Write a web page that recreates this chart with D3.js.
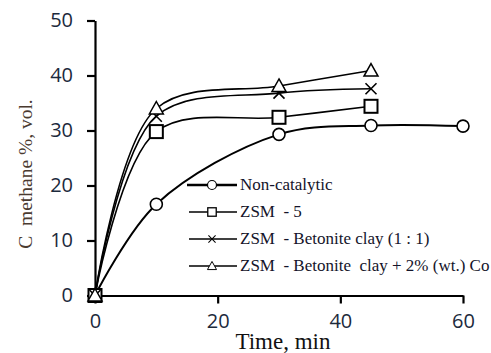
<!DOCTYPE html>
<html>
<head>
<meta charset="UTF-8">
<script src="https://d3js.org/d3.v7.min.js"></script>
</head>
<body style="margin:0">
<svg id="chart" width="491" height="353" font-family="Liberation Serif"></svg>
<script>
const times = [0, 10, 30, 45, 60];
const nonCatalytic = [0, 16.6, 29.3, 30.9, 30.8];
const zsm5 = [0, 29.8, 32.4, 34.4];
const zsmClay = [0, 32.6, 36.8, 37.6];
const zsmClayCo = [0, 34.0, 38.1, 40.9];
const seriesNames = ["Non-catalytic", "ZSM  - 5", "ZSM  - Betonite clay (1 : 1)", "ZSM  - Betonite  clay + 2% (wt.) Co"];
const markers = ["circle", "square", "cross", "triangle"];
const xTicks = [0, 20, 40, 60];
const yTicks = [0, 10, 20, 30, 40, 50];

const svg = d3.select("#chart");
const x = d3.scaleLinear().domain([0, 60]).range([95, 463]);
const y = d3.scaleLinear().domain([0, 50]).range([295.5, 20.5]);

// axes
const xAxis = svg.append("g")
  .attr("transform", "translate(0," + y(0) + ")")
  .call(d3.axisBottom(x).tickValues(xTicks).tickSize(8).tickPadding(10).tickSizeOuter(0));
const yAxis = svg.append("g")
  .attr("transform", "translate(" + x(0) + ",0)")
  .call(d3.axisLeft(y).tickValues(yTicks).tickSize(8).tickPadding(14).tickSizeOuter(0));

[xAxis, yAxis].forEach(function(a) {
  a.attr("font-family", "Open Sans").attr("font-size", 20);
  a.select(".domain").attr("stroke", "#000").attr("stroke-width", 2.2);
  a.selectAll(".tick line").attr("stroke", "#000").attr("stroke-width", 2.2);
  a.selectAll(".tick text").attr("fill", "#1c2a3c");
});

// axis titles
svg.append("text")
  .attr("font-size", 23)
  .attr("x", 283).attr("y", 349)
  .attr("text-anchor", "middle")
  .attr("fill", "#111")
  .text("Time, min");

svg.append("text")
  .attr("font-size", 19.5)
  .attr("transform", "translate(32,174) rotate(-90)")
  .attr("text-anchor", "middle")
  .attr("fill", "#4a3a30")
  .attr("xml:space", "preserve")
  .text("C  methane %, vol.");

// series
const allSeries = [nonCatalytic, zsm5, zsmClay, zsmClayCo];
const line = d3.line()
  .x(d => x(d[0]))
  .y(d => y(d[1]))
  .curve(d3.curveCatmullRom.alpha(0.5));

function drawMarker(g, type, cx, cy) {
  if (type === "circle") {
    g.append("circle").attr("cx", cx).attr("cy", cy).attr("r", 6)
      .attr("fill", "#fff").attr("stroke", "#000").attr("stroke-width", 1.6);
  } else if (type === "square") {
    g.append("rect").attr("x", cx - 6.5).attr("y", cy - 6.5).attr("width", 13).attr("height", 13)
      .attr("fill", "#fff").attr("stroke", "#000").attr("stroke-width", 2);
  } else if (type === "cross") {
    g.append("path").attr("d", "M" + (cx - 5.5) + "," + (cy - 5.5) + "L" + (cx + 5.5) + "," + (cy + 5.5) +
      "M" + (cx + 5.5) + "," + (cy - 5.5) + "L" + (cx - 5.5) + "," + (cy + 5.5))
      .attr("stroke", "#000").attr("stroke-width", 1.6).attr("fill", "none");
  } else {
    g.append("path").attr("d", "M" + cx + "," + (cy - 7) + "L" + (cx + 7) + "," + (cy + 5.5) + "L" + (cx - 7) + "," + (cy + 5.5) + "Z")
      .attr("fill", "#fff").attr("stroke", "#000").attr("stroke-width", 1.5);
  }
}

allSeries.forEach(function(vals, i) {
  const pts = vals.map((v, j) => [times[j], v]);
  svg.append("path").datum(pts)
    .attr("d", line)
    .attr("fill", "none")
    .attr("stroke", "#000")
    .attr("stroke-width", i === 0 ? 2 : 1.6);
});
allSeries.forEach(function(vals, i) {
  const g = svg.append("g");
  vals.forEach(function(v, j) {
    drawMarker(g, markers[i], x(times[j]), y(v));
  });
});

// legend
const legendY = [185, 212, 239, 266];
seriesNames.forEach(function(name, i) {
  const g = svg.append("g");
  const ly = legendY[i];
  g.append("line").attr("x1", i === 0 ? 187 : 189).attr("x2", 237).attr("y1", ly).attr("y2", ly)
    .attr("stroke", "#000").attr("stroke-width", i === 0 ? 2.6 : 1.5);
  const s = i === 0 ? 0.75 : 0.65;
  const mg = g.append("g").attr("transform", "translate(212," + ly + ") scale(" + s + ") translate(-212," + (-ly) + ")");
  drawMarker(mg, markers[i], 212, ly);
  g.append("text")
    .attr("font-size", 17)
    .attr("x", 240).attr("y", ly + 5)
    .attr("xml:space", "preserve")
    .attr("fill", "#14142a")
    .text(name);
});
</script>
</body>
</html>
